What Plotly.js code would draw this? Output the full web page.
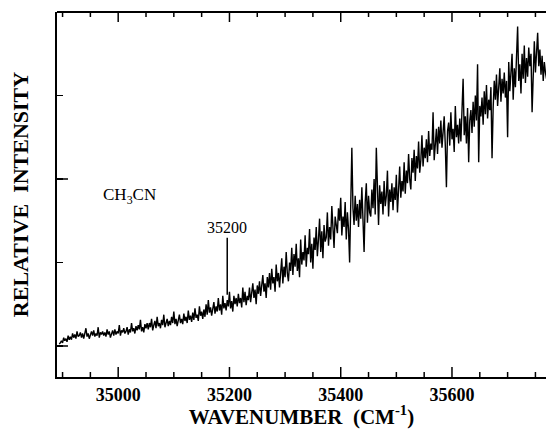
<!DOCTYPE html>
<html>
<head>
<meta charset="utf-8">
<script src="https://cdn.plot.ly/plotly-3.0.1.min.js"></script>
<style>html,body{margin:0;padding:0;background:#fff;}#chart{width:546px;height:429px;}</style>
</head>
<body>
<div id="chart"></div>
<script>
// Spectrum sampling grid (cm^-1)
const wnStart = 34894;
const wnStep = 2;
// Relative intensity (arbitrary units)
const intensity = [
  1, 1.5, 2.5, 1.5, 4, 2.5, 3.5, 2, 5, 3,
  4.5, 3, 6, 4, 5.5, 3.5, 7, 4.5, 5, 6.5,
  4, 6, 3.5, 5.5, 8.5, 4.5, 6, 3.5, 5, 7,
  5, 7.5, 4.5, 6, 5, 9, 4, 6.5, 5.5, 7,
  5, 6.5, 4.5, 8, 5.5, 7, 4, 6, 7.5, 5,
  8, 5.5, 7, 6, 10, 5, 7.5, 6.5, 8.5, 6,
  7, 9, 5.5, 8, 6.5, 11, 7, 8.5, 6, 9.5,
  7.5, 10, 8, 12.5, 7, 9, 6.5, 10.5, 8.5, 11,
  8, 11, 9, 13, 7.5, 10, 12, 8.5, 14, 9.5,
  11, 8.5, 12.5, 10, 15, 9, 11.5, 13, 9.5, 12,
  10, 14, 11, 16.5, 10.5, 13, 9.5, 12.5, 15, 11,
  13, 10.5, 15.5, 12, 14, 11, 17, 12.5, 14.5, 11.5,
  16, 12.5, 18, 13.5, 15, 12, 19, 14.5, 16.5, 13,
  17.5, 14, 20, 15, 22, 16, 18.5, 14.5, 17, 21,
  15.5, 19, 16.5, 23, 17, 20, 15, 24, 18, 20.5,
  17, 22, 19, 26, 18, 21.5, 16.5, 24, 20, 23,
  19, 25, 20.5, 23, 18.5, 28, 21, 26, 19.5, 24,
  22, 28, 21, 25, 30, 23, 27, 20, 29, 25,
  31, 24, 29, 34, 26, 30, 23, 33, 28, 35,
  27, 37, 30, 33, 26, 39, 31, 35, 28, 36,
  42, 30, 38, 33, 45, 35, 31, 40, 36, 47,
  34, 44, 38, 49, 36, 42, 33, 51, 39, 45,
  41, 53, 38, 47, 44, 56, 40, 49, 37, 52,
  46, 57, 43, 51, 61, 45, 55, 42, 58, 50,
  52, 64, 48, 57, 51, 67, 55, 47, 62, 58,
  54, 66, 60, 71, 53, 62, 57, 69, 51, 64,
  56, 40, 62, 95, 66, 58, 72, 60, 68, 57,
  70, 61, 76, 64, 45, 69, 78, 59, 72, 64,
  62, 75, 66, 80, 63, 95, 73, 58, 77, 68,
  74, 63, 79, 67, 72, 84, 62, 75, 69, 78,
  65, 76, 70, 82, 64, 73, 86, 71, 79, 74,
  88, 73, 84, 78, 92, 80, 75, 90, 83, 94,
  79, 91, 85, 98, 83, 89, 101, 86, 95, 90,
  99, 88, 103, 91, 97, 94, 112, 89, 100, 104,
  92, 105, 97, 108, 95, 101, 110, 96, 76, 103,
  107, 96, 112, 99, 104, 93, 115, 100, 106, 97,
  109, 98, 112, 128, 101, 110, 97, 114, 88, 108,
  113, 102, 117, 105, 120, 108, 135, 88, 115, 110,
  119, 106, 122, 111, 125, 109, 118, 113, 124, 90,
  114, 127, 118, 130, 115, 124, 133, 117, 128, 121,
  131, 119, 127, 100, 136, 122, 129, 140, 118, 133,
  124, 137, 153, 127, 135, 121, 140, 128, 144, 126,
  138, 129, 143, 134, 140, 112, 137, 146, 131, 141,
  150, 134, 142, 130, 139, 127, 136, 131, 128
];
// Axis ticks
const xMinorVals = [34900, 34950, 35050, 35100, 35150, 35250, 35300, 35350, 35450, 35500, 35550, 35650, 35700, 35750];
const xMajorVals = [35000, 35200, 35400, 35600];
const xMajorText = ["35000", "35200", "35400", "35600"];
const yTickVals = [0, 40, 80, 120];
const yMajorVals = [0, 80];
// Labels
const sampleLabel = "CH<sub>3</sub>CN";
const markLabel = "35200";
const markWn = 35196;
const markLevel = 24.5;
const xTitle = "WAVENUMBER  (CM<sup>-1</sup>)";
const yTitle = "RELATIVE  INTENSITY";
const xRange = [34890, 35769];
const yRange = [-14.85, 160];

const serif = "Liberation Serif, Times New Roman, serif";
const W = 546, H = 429, M = {l: 57, r: 0, t: 12, b: 52};
const plotW = W - M.l - M.r, plotH = H - M.t - M.b;
const dxPerPx = (xRange[1] - xRange[0]) / plotW;
const dyPerPx = (yRange[1] - yRange[0]) / plotH;

const trace = {
  type: "scatter", mode: "lines",
  x0: wnStart, dx: wnStep, y: intensity,
  line: {color: "#000", width: 1.4},
  hoverinfo: "x+y"
};

// inward frame tick marks (bottom, top, and the longer left ones), built from the tick arrays
const tx = [], ty = [];
function addSeg(xa, ya, xb, yb) { tx.push(xa, xb, null); ty.push(ya, yb, null); }
xMinorVals.forEach(v => {
  addSeg(v, yRange[0], v, yRange[0] + 5 * dyPerPx);
  addSeg(v, yRange[1], v, yRange[1] - 5 * dyPerPx);
});
xMajorVals.forEach(v => {
  addSeg(v, yRange[0], v, yRange[0] + 10 * dyPerPx);
  addSeg(v, yRange[1], v, yRange[1] - 10 * dyPerPx);
});
yMajorVals.forEach(v => addSeg(xRange[0], v, xRange[0] + 11 * dxPerPx, v));
const frameTicks = {
  type: "scatter", mode: "lines", x: tx, y: ty, connectgaps: false,
  line: {color: "#000", width: 1.5}, hoverinfo: "skip", showlegend: false
};

const layout = {
  width: W, height: H,
  margin: M,
  paper_bgcolor: "#fff", plot_bgcolor: "#fff",
  showlegend: false,
  xaxis: {
    range: xRange, showgrid: false, zeroline: false,
    showline: true, linecolor: "#000", linewidth: 2,
    ticks: "", tickmode: "array", tickvals: xMajorVals, ticktext: xMajorText,
    tickfont: {family: serif, size: 18, color: "#000", weight: 700},
    title: {text: xTitle, font: {family: serif, size: 21, color: "#000", weight: 700}, standoff: 6}
  },
  yaxis: {
    range: yRange, showgrid: false, zeroline: false,
    showline: true, linecolor: "#000", linewidth: 2,
    ticks: "inside", ticklen: 6, tickwidth: 1.5, tickcolor: "#000",
    tickmode: "array", tickvals: yTickVals, showticklabels: false,
    title: {text: yTitle, font: {family: serif, size: 22, color: "#000", weight: 700}, standoff: 20}
  },
  shapes: [
    {type: "line", xref: "paper", yref: "paper", x0: 0, x1: 1, y0: 1, y1: 1, line: {color: "#000", width: 2}}
  ],
  annotations: [
    {
      text: sampleLabel, xref: "x", yref: "y", x: 35020, y: 72,
      showarrow: false, font: {family: serif, size: 17, color: "#000"}
    },
    {
      text: markLabel, xref: "x", yref: "y", x: markWn, y: markLevel,
      showarrow: true, arrowhead: 0, arrowwidth: 1.5, arrowcolor: "#000",
      ax: 0, ay: -67, standoff: 0,
      font: {family: serif, size: 16, color: "#000"}
    }
  ]
};

Plotly.newPlot("chart", [trace, frameTicks], layout, {displayModeBar: false, staticPlot: true});
</script>
</body>
</html>
